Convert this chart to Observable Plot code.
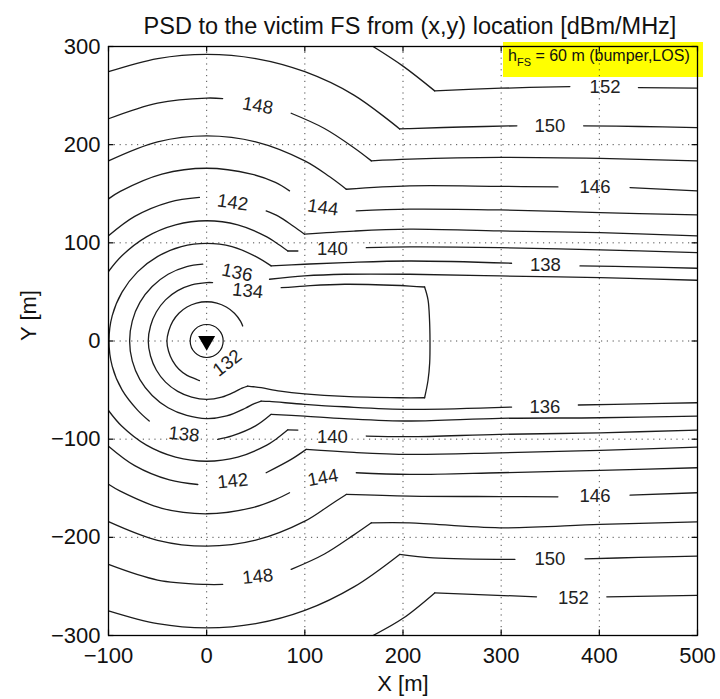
<!DOCTYPE html>
<html>
<head>
<meta charset="utf-8">
<script src="https://cdn.jsdelivr.net/npm/d3@7"></script>
<script src="https://cdn.jsdelivr.net/npm/@observablehq/plot@0.6"></script>
<style>
  body { margin: 0; background: #fff; }
  #wrap { position: relative; width: 720px; height: 699px; font-family: "Liberation Sans", Arial, sans-serif; }
  #legendBox { position: absolute; left: 503px; top: 42px; width: 200px; height: 35px; background: #ffff00; z-index: 0; }
  #chart { position: absolute; left: 0; top: 0; z-index: 1; }
  #legendText { position: absolute; left: 508px; top: 47px; z-index: 2; font-size: 16px; color: #111; white-space: nowrap; }
  #legendText sub { font-size: 11px; vertical-align: -5px; }
</style>
</head>
<body>
<div id="wrap">
  <div id="legendBox"></div>
  <div id="chart"></div>
  <div id="legendText">h<sub>FS</sub> = 60 m (bumper,LOS)</div>
</div>
<script>
// ---------- axis ticks ----------
const xTicks = [-100, 0, 100, 200, 300, 400, 500];
const yTicks = [-300, -200, -100, 0, 100, 200, 300];

// ---------- contour lines (data coordinates, metres) ----------
// pieces are split at label gaps and at sharp kinks
const contour132 = [
  [[36.7,15.3],[34.6,20],[28.3,28.3],[20,34.6],[10.4,38.6],[0,40],[-10.4,38.6],[-20,34.6],[-28.3,28.3],[-34.6,20],[-38.6,10.4],[-40.5,0],[-38.8,-10.4],[-34.8,-20],[-28.5,-28.5],[-20,-35],[-10.4,-39],[-7.4,-40.4]]
];
const contour134 = [
  [[6,59.5],[0,59.5],[-15.3,57.2],[-29.5,51.3],[-41.9,41.9],[-51.3,29.5],[-57.2,15.3],[-59.5,0],[-57.2,-15.3],[-51.3,-29.5],[-41.9,-41.9],[-29.5,-51.3],[-15.3,-57.2],[0,-59.5],[15.3,-57.2],[29.5,-51.3],[36,-48],[41.8,-45.9]],
  [[41.8,-45.9],[48,-46.6],[55.5,-47.6],[75,-51],[99.7,-53.8],[140,-56.5],[196.6,-57.8],[222,-57.8]],
  [[222,-57.8],[225.5,-40],[227.2,-22],[227.5,0],[227,22],[225.5,42],[222,55]],
  [[222,55],[207,56],[140.5,57.8],[99.7,56],[75.9,54.3]]
];
const contour136 = [
  [[64,62.9],[99.7,66.3],[140.5,68],[207,68],[298.7,66.3],[400.7,64.5],[499.4,61.9]],
  [[-4,78.3],[-20.3,75.8],[-39.3,68],[-55.5,55.5],[-68,39.3],[-75.8,20.3],[-78.5,0],[-75.8,-20.3],[-68,-39.3],[-55.5,-55.5],[-39.3,-68],[-20.3,-75.8],[0,-79],[20.3,-76.3],[39.3,-68.5],[48,-64],[55.5,-61.2]],
  [[55.5,-61.2],[64,-61.6],[99.7,-64.5],[140,-67],[206.8,-69.6],[310.6,-67.3]],
  [[378.6,-65.2],[440,-64],[499.4,-62.9]]
];
const contour138 = [
  [[499.4,74.1],[440,75.5],[380.3,76.5]],
  [[310.6,79.2],[207,81.5],[140.5,79.8],[99.7,78.2],[65.7,76.5]],
  [[65.7,76.5],[49.8,86.2],[25.8,96.2],[0,99.5],[-25.8,96.2],[-49.8,86.2],[-70.4,70.4],[-86.2,49.8],[-96.2,25.8],[-99.5,0],[-96.2,-25.8],[-86.2,-49.8],[-70.4,-70.4],[-58.5,-81.5]],
  [[11.2,-100.2],[25.8,-96.7],[49.8,-86.5],[65.7,-74.7]],
  [[65.7,-74.7],[99.7,-76.5],[140,-79],[206.8,-81.5],[298.7,-78.8],[400.7,-78.2],[499.4,-76.5]]
];
const contour140 = [
  [[92.9,91.7],[82.7,91.7]],
  [[82.7,91.7],[70.3,100.3],[61.3,106.1],[31.7,118.3],[0,122.5],[-31.7,118.3],[-61.3,106.1],[-86.6,86.6],[-100,70.8]],
  [[162.6,95.1],[207,95.8],[298.7,95.1],[400.7,92.8],[499.4,90]],
  [[-100,-70.8],[-86.6,-86.6],[-61.3,-106.1],[-31.7,-118.3],[0,-122.5],[31.7,-118.3],[61.3,-106.1],[70.3,-100.3],[82.7,-90.5]],
  [[82.7,-90.5],[92.9,-90.7]],
  [[162.6,-96.8],[206.8,-97.5],[298.7,-95.1],[400.7,-93.5],[499.4,-90.7]]
];
const contour142 = [
  [[-100,107.1],[-73.3,126.9],[-37.9,141.5],[-7.4,146.3]],
  [[60.6,132.5],[73.3,126.9],[88,117.1],[99.7,108.8]],
  [[99.7,108.8],[150,112],[206.8,113.9],[298.7,112.1],[400.7,110.4],[499.4,107]],
  [[-100,-107.1],[-73.3,-126.9],[-37.9,-141.5],[-9,-146.2]],
  [[60.6,-134.2],[86.1,-120.6],[101.4,-110.4]],
  [[101.4,-110.4],[150,-113.5],[206.8,-115.5],[298.7,-113.9],[400.7,-111.4],[499.4,-108.1]]
];
const contour144 = [
  [[-100,144.8],[-88,152.4],[-45.6,170],[0,176],[45.6,170],[70,161.5],[84.4,152.9]],
  [[152.4,132.5],[206.8,134.3],[298.7,133.5],[400.7,130.8],[499.4,128.4]],
  [[-100,-146],[-88,-153],[-45.6,-170.5],[0,-176],[45.6,-170],[70,-161.5],[84.4,-154.6]],
  [[152.4,-134.2],[206.8,-135.9],[298.7,-134.2],[400.7,-131.8],[499.4,-129.1]]
];
const contour146 = [
  [[-100,183.5],[-50,202.9],[0,209],[50,202.9],[100,183.5],[125,167.5],[142.2,154.6]],
  [[142.2,154.6],[206.8,158],[300,157.5],[357.8,157]],
  [[431.3,156.3],[499.4,152.9]],
  [[-100,-184],[-50,-203],[0,-209],[50,-202.9],[100,-183.5],[125,-167.5],[142.2,-156.3]],
  [[142.2,-156.3],[206.8,-158],[300,-158.5],[357.8,-158.7]],
  [[431.3,-157],[499.4,-154.6]]
];
const contour148 = [
  [[-100,226.4],[-50,242.4],[0,247.5],[16.3,247]],
  [[86.1,232],[120,216.5],[150,196.9],[167.8,183.5]],
  [[167.8,183.5],[206.8,185.2],[298.7,187],[400.7,186],[499.4,183.5]],
  [[-100,-227.6],[-50,-243.5],[0,-248],[16.3,-248]],
  [[86.1,-232.7],[120,-217],[150,-197.5],[167.8,-185.2]],
  [[167.8,-185.2],[206.8,-185.2],[298.7,-190.3],[400.7,-186.9],[499.4,-184.2]]
];
const contour150 = [
  [[-100,274.3],[-50,287.7],[0,292],[50,287.7],[100,274.3],[150,250.5],[196.6,216]],
  [[196.6,216],[206.8,216.4],[260,218],[316,219.2]],
  [[384,219.2],[440,218.5],[499.4,217.4]],
  [[-100,-275],[-50,-288],[0,-292.3],[50,-288],[100,-274.5],[150,-250.5],[196.6,-217.4]],
  [[196.6,-217.4],[230.6,-220.9],[314,-222.5]],
  [[385.4,-221.9],[440,-220.5],[499.4,-219.2]]
];
const contour152 = [
  [[169.5,300],[200,280],[232.3,254.8]],
  [[232.3,254.8],[300,257.5],[370,259.2]],
  [[439.8,258.2],[499.4,257.6]],
  [[169.5,-300],[200,-282.5],[232.3,-256.6]],
  [[232.3,-256.6],[336,-260.6]],
  [[407.6,-260.6],[499.4,-259.2]]
];

// ---------- contour labels ----------
const labelText = ["148","142","144","140","136","134","152","150","146","138",
                   "132","138","140","142","144","146","148","150","152","136"];
const labelX = [52, 26.5, 118.4, 128, 31, 41.8, 405.8, 349.7, 395.6, 345,
                21.1, -23, 128, 26.5, 118.4, 395.6, 52, 349.7, 373.5, 344.6];
const labelY = [239.5, 141, 135.9, 93.5, 69.6, 51, 258.2, 218.5, 156.3, 77.5,
                -22.4, -95.1, -97.5, -142.7, -139.3, -158, -240, -222.5, -261.7, -67.3];
const labelAngle = [10, 8, 8, 0, 12, 6, 0, 0, 0, 0,
                    -38, 6, 0, -6, -10, 0, -6, 0, 0, 0];

// ---------- build tables ----------
const contourSets = [
  [132, contour132], [134, contour134], [136, contour136], [138, contour138],
  [140, contour140], [142, contour142], [144, contour144], [146, contour146],
  [148, contour148], [150, contour150], [152, contour152]
];
const lineRows = [];
contourSets.forEach(([level, pieces]) => {
  pieces.forEach((piece, pi) => {
    piece.forEach(([x, y]) => lineRows.push({level, id: level + "-" + pi, x, y}));
  });
});
const labelRows = labelText.map((t, i) => ({text: t, x: labelX[i], y: labelY[i], angle: labelAngle[i]}));
const origin = [{x: 0, y: 0}];

const FONT = "'Liberation Sans', Arial, sans-serif";

const chart = Plot.plot({
  width: 720,
  height: 699,
  marginLeft: 108,
  marginRight: 23,
  marginTop: 46,
  marginBottom: 64,
  style: {background: "transparent", fontFamily: FONT, color: "#111", overflow: "visible"},
  x: {domain: [-100, 500]},
  y: {domain: [-300, 300]},
  marks: [
    // dotted grid
    Plot.ruleX(xTicks.slice(1, -1), {stroke: "#222", strokeWidth: 1, strokeDasharray: "1.2,4.6", strokeOpacity: 0.8}),
    Plot.ruleY(yTicks.slice(1, -1), {stroke: "#222", strokeWidth: 1, strokeDasharray: "1.2,4.6", strokeOpacity: 0.8}),
    // contours
    Plot.line(lineRows, {x: "x", y: "y", z: "id", stroke: "#1c1c1c", strokeWidth: 1.3, curve: "catmull-rom", clip: true}),
    // contour labels
    Plot.text(labelRows, {x: "x", y: "y", text: "text", rotate: "angle", fontSize: 18.5, fill: "#222"}),
    // origin marker
    Plot.dot(origin, {x: "x", y: "y", r: 16.5, stroke: "#111", strokeWidth: 1.2, fill: "none"}),
    Plot.dot(origin, {x: "x", y: "y", symbol: "triangle", rotate: 180, r: 6.3, fill: "#000", stroke: "none"}),
    // inward tick marks on all four sides
    Plot.ruleX(xTicks, {y1: -300, y2: -294.5, stroke: "#000", strokeWidth: 1.2}),
    Plot.ruleX(xTicks, {y1: 300, y2: 294.5, stroke: "#000", strokeWidth: 1.2}),
    Plot.ruleY(yTicks, {x1: -100, x2: -94.5, stroke: "#000", strokeWidth: 1.2}),
    Plot.ruleY(yTicks, {x1: 500, x2: 494.5, stroke: "#000", strokeWidth: 1.2}),
    Plot.frame({stroke: "#000", strokeWidth: 1.3}),
    // axes
    Plot.axisX({ticks: xTicks, anchor: "bottom", tickSize: 0, tickPadding: 12, fontSize: 22, label: null}),
    Plot.axisY({ticks: yTicks, anchor: "left", tickSize: 0, tickPadding: 8, fontSize: 22, label: null}),
    // title and axis labels
    Plot.text(["PSD to the victim FS from (x,y) location [dBm/MHz]"], {frameAnchor: "top", dx: 7, dy: -29, fontSize: 23.5, fill: "#111"}),
    Plot.text(["X [m]"], {frameAnchor: "bottom", dy: 55, fontSize: 22, fill: "#111"}),
    Plot.text(["Y [m]"], {frameAnchor: "left", dx: -80, rotate: -90, fontSize: 22, fill: "#111"})
  ]
});
document.getElementById("chart").appendChild(chart);
</script>
</body>
</html>
